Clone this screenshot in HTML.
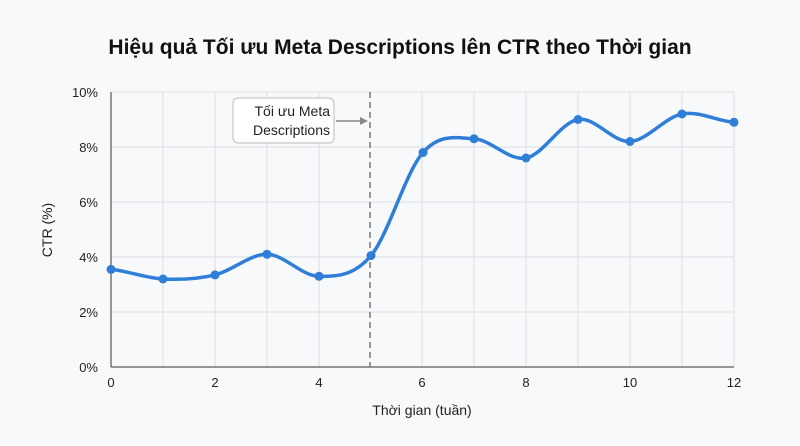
<!DOCTYPE html>
<html><head><meta charset="utf-8"><style>
body{margin:0;background:#f8f9fb;}
svg{display:block;font-family:"Liberation Sans","DejaVu Sans",sans-serif;}
</style></head><body>
<svg width="800" height="446" viewBox="0 0 800 446">
<rect width="800" height="446" fill="#f8f9fb"/>
<text x="400" y="54" text-anchor="middle" font-size="21" font-weight="bold" fill="#111">Hiệu quả Tối ưu Meta Descriptions lên CTR theo Thời gian</text>
<g stroke="#dcdde0" stroke-width="1">
<line x1="111" y1="92" x2="734" y2="92"/><line x1="111" y1="147" x2="734" y2="147"/><line x1="111" y1="202" x2="734" y2="202"/><line x1="111" y1="257" x2="734" y2="257"/><line x1="111" y1="312" x2="734" y2="312"/>
<line x1="163" y1="92" x2="163" y2="367"/><line x1="215" y1="92" x2="215" y2="367"/><line x1="267" y1="92" x2="267" y2="367"/><line x1="319" y1="92" x2="319" y2="367"/><line x1="422" y1="92" x2="422" y2="367"/><line x1="474" y1="92" x2="474" y2="367"/><line x1="526" y1="92" x2="526" y2="367"/><line x1="578" y1="92" x2="578" y2="367"/><line x1="630" y1="92" x2="630" y2="367"/><line x1="682" y1="92" x2="682" y2="367"/><line x1="734" y1="92" x2="734" y2="367"/>
</g>
<line x1="111" y1="92" x2="111" y2="367" stroke="#333" stroke-width="1"/>
<line x1="111" y1="367" x2="734" y2="367" stroke="#333" stroke-width="1"/>
<g font-size="13" fill="#222" text-anchor="end">
<text x="98" y="97">10%</text><text x="98" y="152">8%</text><text x="98" y="207">6%</text><text x="98" y="262">4%</text><text x="98" y="317">2%</text><text x="98" y="372">0%</text>
</g>
<g font-size="13" fill="#222" text-anchor="middle">
<text x="111" y="387">0</text><text x="215" y="387">2</text><text x="319" y="387">4</text><text x="422" y="387">6</text><text x="526" y="387">8</text><text x="630" y="387">10</text><text x="734" y="387">12</text>
</g>
<text x="422" y="415" text-anchor="middle" font-size="14" fill="#222">Thời gian (tuần)</text>
<text transform="translate(52,230) rotate(-90)" text-anchor="middle" font-size="14" fill="#222">CTR (%)</text>
<line x1="370" y1="92" x2="370" y2="367" stroke="#777" stroke-width="1.5" stroke-dasharray="6,4"/>
<rect x="233" y="98" width="101" height="45" rx="5" fill="#fff" stroke="#bbb"/>
<text x="330" y="116" text-anchor="end" font-size="14" fill="#222">Tối ưu Meta</text>
<text x="330" y="135" text-anchor="end" font-size="14" fill="#222">Descriptions</text>
<line x1="336" y1="121" x2="362" y2="121" stroke="#888" stroke-width="1.5"/>
<polygon points="368,121 360,117 360,125" fill="#888"/>
<path fill="none" stroke="#2f7ed8" stroke-width="3.5" stroke-linejoin="round" d="M111,269.4
C128.3,271 145.7,278.1 163,279
C180.3,279.9 197.7,279 215,274.9
C232.3,270.8 249.7,254.1 267,254.3
C284.3,254.5 301.7,276.1 319,276.3
C336.3,276.5 353.7,276.2 371,255.6
C388.3,235 405.7,172 423,152.5
C440.3,133 456.7,137.9 474,138.8
C491.3,139.7 508.7,161.2 526,158
C543.3,154.8 560.7,122.3 578,119.5
C595.3,116.7 612.7,142.4 630,141.5
C647.3,140.6 664.7,117.2 682,114
C699.3,110.8 716.7,120.9 734,122.3"/>
<g fill="#2f7ed8">
<circle cx="111" cy="269.4" r="4.5"/><circle cx="163" cy="279" r="4.5"/><circle cx="215" cy="274.9" r="4.5"/><circle cx="267" cy="254.3" r="4.5"/><circle cx="319" cy="276.3" r="4.5"/><circle cx="371" cy="255.6" r="4.5"/><circle cx="423" cy="152.5" r="4.5"/><circle cx="474" cy="138.8" r="4.5"/><circle cx="526" cy="158" r="4.5"/><circle cx="578" cy="119.5" r="4.5"/><circle cx="630" cy="141.5" r="4.5"/><circle cx="682" cy="114" r="4.5"/><circle cx="734" cy="122.3" r="4.5"/>
</g>
</svg>
</body></html>
